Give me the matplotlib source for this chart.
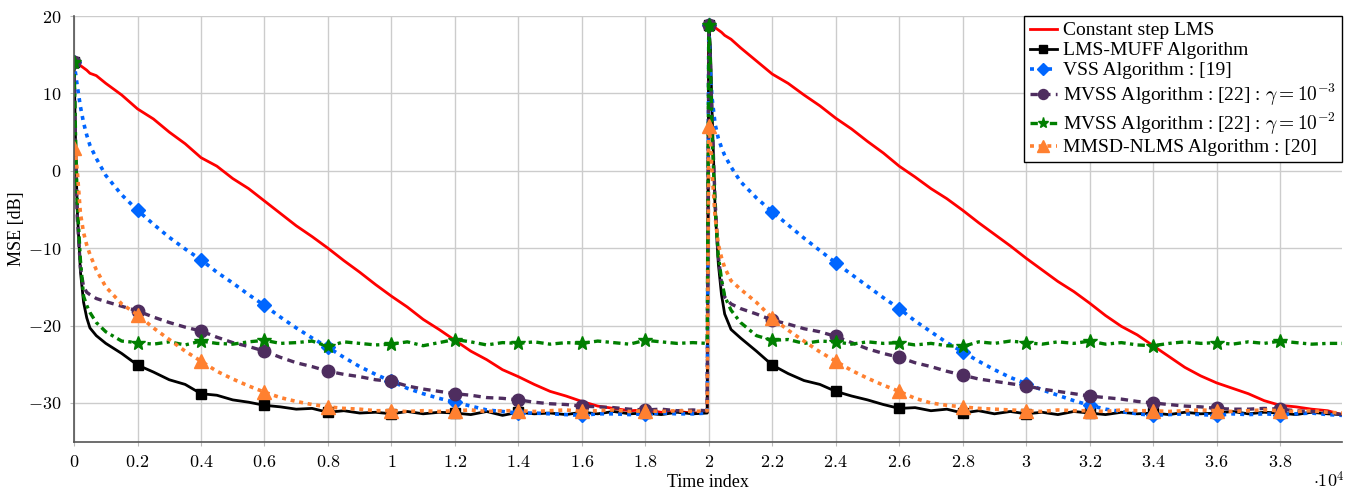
import numpy as np
import matplotlib
matplotlib.use("Agg")
import matplotlib.pyplot as plt
from matplotlib.ticker import FuncFormatter, MultipleLocator

plt.rcParams["font.family"] = ["Liberation Serif", "DejaVu Serif"]
plt.rcParams["mathtext.fontset"] = "cm"

# time index (x1e4) inside each of the two runs; the system changes at 2e4
T = [0, 0.005, 0.01, 0.02, 0.03, 0.04, 0.05, 0.07, 0.1, 0.15,
     0.2, 0.25, 0.3, 0.35, 0.4, 0.45, 0.5, 0.55, 0.6, 0.65,
     0.7, 0.75, 0.8, 0.85, 0.9, 0.95, 1.0, 1.05, 1.1, 1.15,
     1.2, 1.25, 1.3, 1.35, 1.4, 1.45, 1.5, 1.55, 1.6, 1.65,
     1.7, 1.75, 1.8, 1.85, 1.9, 1.95, 1.995]
T_MARK = [0, 0.2, 0.4, 0.6, 0.8, 1.0, 1.2, 1.4, 1.6, 1.8]
RESTART = 2.0

# MSE in dB, first run / second run
lms_1 = [14.0, 13.9, 13.8, 13.6, 13.3, 13.0, 12.6, 12.3, 11.3, 9.8,
         8.0, 6.7, 5.0, 3.5, 1.7, 0.6, -1.0, -2.3, -3.9, -5.5,
         -7.1, -8.5, -10.0, -11.6, -13.1, -14.7, -16.2, -17.6, -19.2, -20.5,
         -21.9, -23.3, -24.4, -25.7, -26.6, -27.6, -28.5, -29.1, -29.8, -30.4,
         -30.7, -31.0, -30.9, -31.2, -31.1, -31.3, -31.2]
lms_2 = [18.8, 18.7, 18.6, 18.5, 18.2, 17.9, 17.5, 17.0, 15.9, 14.2,
         12.5, 11.3, 9.8, 8.4, 6.8, 5.4, 3.8, 2.3, 0.6, -0.8,
         -2.3, -3.6, -5.1, -6.7, -8.2, -9.7, -11.3, -12.8, -14.3, -15.6,
         -17.1, -18.7, -20.1, -21.2, -22.6, -24.0, -25.4, -26.5, -27.4, -28.1,
         -28.8, -29.7, -30.3, -30.5, -30.8, -31.0, -31.5]

muff_1 = [14.0, 3.0, -5.0, -13.0, -17.0, -19.0, -20.3, -21.3, -22.3, -23.6,
          -25.1, -26.0, -27.0, -27.6, -28.8, -29.0, -29.6, -29.9, -30.3, -30.5,
          -30.8, -30.7, -31.2, -31.0, -31.3, -31.2, -31.4, -31.1, -31.4, -31.2,
          -31.3, -31.5, -31.1, -31.6, -31.2, -31.4, -31.3, -31.5, -31.2, -31.4,
          -31.1, -31.4, -31.3, -31.5, -31.2, -31.4, -31.3]
muff_2 = [18.8, 16.0, 8.0, -5.0, -12.0, -16.0, -18.5, -20.5, -21.6, -23.3,
          -25.1, -26.2, -27.1, -27.6, -28.5, -29.1, -29.6, -30.2, -30.7, -30.6,
          -31.0, -30.8, -31.3, -31.0, -31.4, -31.1, -31.4, -31.2, -31.5, -31.1,
          -31.3, -31.5, -31.2, -31.4, -31.3, -31.5, -31.2, -31.4, -31.3, -31.1,
          -31.4, -31.2, -31.3, -31.5, -31.2, -31.4, -31.5]

vss_1 = [14.0, 12.5, 11.0, 8.3, 6.2, 4.6, 3.3, 1.6, -0.6, -3.1,
         -5.1, -6.9, -8.6, -10.1, -11.5, -13.1, -14.5, -16.0, -17.4, -18.9,
         -20.3, -21.6, -22.8, -24.1, -25.3, -26.3, -27.2, -28.1, -28.8, -29.4,
         -29.9, -30.4, -30.9, -31.1, -31.3, -31.3, -31.4, -31.5, -31.6, -31.4,
         -31.4, -31.5, -31.4, -31.3, -31.4, -31.4, -31.3]
vss_2 = [18.8, 13.0, 9.5, 6.0, 4.2, 3.0, 2.0, 0.5, -1.4, -3.5,
         -5.3, -7.0, -8.7, -10.3, -11.9, -13.4, -14.9, -16.4, -17.8, -19.4,
         -20.8, -22.2, -23.4, -24.6, -25.7, -26.7, -27.5, -28.3, -29.0, -29.7,
         -30.3, -30.8, -31.1, -31.4, -31.6, -31.5, -31.4, -31.5, -31.6, -31.4,
         -31.5, -31.4, -31.5, -31.4, -31.3, -31.5, -31.6]

mvss3_1 = [14.0, 2.0, -6.0, -12.5, -15.0, -15.7, -16.0, -16.5, -16.9, -17.5,
           -18.1, -18.9, -19.6, -20.2, -20.7, -21.5, -22.2, -22.7, -23.3, -24.1,
           -24.8, -25.3, -25.9, -26.3, -26.6, -27.0, -27.2, -27.8, -28.2, -28.5,
           -28.8, -29.0, -29.3, -29.4, -29.6, -29.9, -30.1, -30.2, -30.4, -30.5,
           -30.6, -30.8, -30.9, -30.8, -31.0, -30.9, -31.0]
mvss3_2 = [18.8, 14.0, 7.0, -4.0, -11.0, -14.5, -16.3, -17.2, -17.8, -18.5,
           -19.3, -19.8, -20.4, -20.8, -21.4, -22.2, -23.0, -23.6, -24.1, -24.8,
           -25.3, -25.9, -26.4, -26.9, -27.2, -27.5, -27.8, -28.2, -28.5, -28.8,
           -29.1, -29.3, -29.5, -29.8, -30.0, -30.2, -30.4, -30.5, -30.7, -30.8,
           -30.8, -30.7, -30.8, -31.0, -31.1, -31.2, -31.5]

mvss2_1 = [14.0, 4.0, -4.0, -11.5, -16.2, -17.4, -18.3, -19.6, -20.8, -22.0,
           -22.2, -22.4, -22.1, -22.5, -22.0, -22.3, -22.4, -22.1, -21.9, -22.3,
           -22.2, -22.0, -22.7, -22.1, -22.3, -22.5, -22.4, -22.1, -22.6, -22.2,
           -21.8, -22.1, -22.5, -22.2, -22.3, -22.1, -22.4, -22.2, -22.3, -22.0,
           -22.2, -22.4, -21.9, -22.1, -22.3, -22.2, -22.3]
mvss2_2 = [18.8, 14.0, 5.0, -5.0, -11.0, -14.0, -16.2, -18.0, -19.6, -21.3,
           -21.9, -21.8, -22.3, -22.0, -22.1, -22.4, -22.1, -22.3, -22.2, -22.5,
           -22.3, -22.6, -22.7, -22.1, -22.3, -22.0, -22.2, -22.4, -22.1, -22.3,
           -22.0, -22.4, -22.2, -22.5, -22.6, -22.3, -22.1, -22.3, -22.2, -22.4,
           -22.1, -22.3, -22.0, -22.2, -22.4, -22.3, -22.3]

mmsd_1 = [3.0, 2.0, 0.0, -5.5, -8.0, -9.6, -10.8, -12.8, -15.0, -17.2,
          -18.6, -20.3, -21.8, -23.3, -24.6, -25.9, -26.9, -27.8, -28.6, -29.3,
          -29.8, -30.2, -30.5, -30.7, -30.8, -31.0, -31.0, -31.1, -31.0, -31.1,
          -31.0, -30.9, -31.1, -31.0, -31.0, -31.1, -31.0, -30.9, -31.1, -31.0,
          -30.9, -31.1, -31.0, -31.1, -31.0, -31.1, -31.0]
mmsd_2 = [5.8, 4.0, 0.0, -6.0, -9.5, -11.2, -12.5, -14.2, -15.3, -17.0,
          -19.0, -20.6, -22.0, -23.4, -24.6, -25.8, -26.8, -27.7, -28.5, -29.4,
          -30.0, -30.3, -30.5, -30.7, -30.8, -30.9, -31.0, -31.1, -30.9, -31.0,
          -31.0, -31.1, -30.9, -31.0, -31.0, -31.1, -31.0, -30.9, -31.0, -31.1,
          -31.0, -30.9, -31.0, -31.1, -31.0, -31.2, -31.3]

series = [
    ("Constant step LMS", lms_1, lms_2, "#ff0000", "-", 2.0, None, 0),
    ("LMS-MUFF Algorithm", muff_1, muff_2, "black", "-", 2.0, "s", 7),
    ("VSS Algorithm : [19]", vss_1, vss_2, "#0066ff", (0, (1.1, 1.4)), 2.6, "D", 7.5),
    (r"MVSS Algorithm : [22] : $\gamma = 10^{-3}$", mvss3_1, mvss3_2, "#4e2d5f",
     (0, (2.2, 1.6)), 2.4, "o", 9),
    (r"MVSS Algorithm : [22] : $\gamma = 10^{-2}$", mvss2_1, mvss2_2, "#007f00",
     (0, (2.2, 1.3, 1.0, 1.3)), 2.4, "*", 10),
    ("MMSD-NLMS Algorithm : [20]", mmsd_1, mmsd_2, "#ff8030", (0, (1.1, 1.3)), 2.6, "^", 10),
]

t = np.asarray(T)
x = np.concatenate([t, t + RESTART])
mark = np.isin(np.round(t, 3), T_MARK)
mark = np.concatenate([mark, mark])

fig = plt.figure(figsize=(13.54, 4.93), dpi=100)
ax = fig.add_axes([0.0547, 0.1041, 0.9364, 0.8634])

for label, y1, y2, col, ls, lw, mk, ms in series:
    y = np.concatenate([y1, y2])
    kw = dict(color=col, linestyle=ls, linewidth=lw, label=label)
    if mk:
        kw.update(marker=mk, markersize=ms, markevery=list(np.flatnonzero(mark)),
                  markerfacecolor=col, markeredgecolor=col)
    ax.plot(x, y, **kw)

ax.set_xlim(0, 3.995)
ax.set_ylim(-35, 20)
ax.xaxis.set_major_locator(MultipleLocator(0.2))
ax.yaxis.set_major_locator(MultipleLocator(10))
fmt = FuncFormatter(lambda v, p: f"${v:g}$" if v < 3.9 else "")
ax.xaxis.set_major_formatter(fmt)
ax.yaxis.set_major_formatter(FuncFormatter(lambda v, p: f"${v:g}$"))
ax.tick_params(labelsize=13, length=3, color="#bbbbbb", pad=6)
ax.grid(True, color="#cccccc", linewidth=1.0)
ax.set_axisbelow(True)
for s in ("top", "right"):
    ax.spines[s].set_visible(False)
for s in ("left", "bottom"):
    ax.spines[s].set_color("#555555")
    ax.spines[s].set_linewidth(1.2)

ax.set_xlabel("Time index", fontsize=13, labelpad=2)
ax.set_ylabel("MSE [dB]", fontsize=13, labelpad=2)
fig.text(0.993, 0.004, r"$\cdot 10^4$", fontsize=13, ha="right", va="bottom")

leg = ax.legend(loc="upper right", fontsize=14, frameon=True, fancybox=False,
                edgecolor="black", framealpha=1, borderaxespad=0,
                handlelength=1.4, handletextpad=0.3, labelspacing=0.12,
                borderpad=0.3, markerscale=0.8)
leg.get_frame().set_linewidth(1.0)

fig.savefig("out.png", dpi=100)
